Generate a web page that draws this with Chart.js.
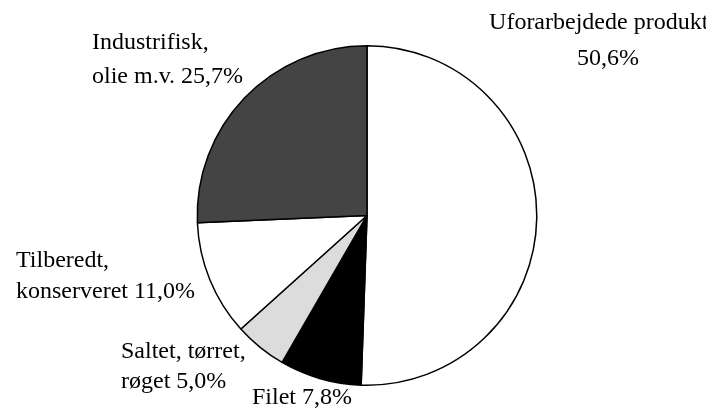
<!DOCTYPE html>
<html lang="da">
<head>
    <meta charset="UTF-8">
    <title>Fiskeeksport fordelt på forarbejdningsgrad</title>
    <script src="https://cdn.jsdelivr.net/npm/chart.js"></script>
    <style>
        html, body { margin: 0; padding: 0; background: #fff; }
        #wrap { width: 723px; height: 419px; }
    </style>
</head>
<body>
    <div id="wrap"><canvas id="pieChart" width="723" height="419"></canvas></div>

    <script>
        // Data (andel i %)
        const categories = ['Uforarbejdede produkter', 'Filet', 'Saltet, tørret, røget', 'Tilberedt, konserveret', 'Industrifisk, olie m.v.'];
        const shares = [50.6, 7.8, 5.0, 11.0, 25.7];
        const sliceColors = ['#ffffff', '#000000', '#dcdcdc', '#ffffff', '#444444'];

        // Label text lines per slice
        const labelLines = [
            ['Uforarbejdede produkter', '50,6%'],
            ['Filet 7,8%'],
            ['Saltet, tørret,', 'røget 5,0%'],
            ['Tilberedt,', 'konserveret 11,0%'],
            ['Industrifisk,', 'olie m.v. 25,7%']
        ];

        // where each label goes (x, baselines, alignment)
        const labelPlacement = [
            { x: 608, y: [29, 65], align: 'center' },
            { x: 252, y: [404], align: 'left' },
            { x: 121, y: [358, 388], align: 'left' },
            { x: 16, y: [267, 298], align: 'left' },
            { x: 92, y: [49, 83], align: 'left' }
        ];

        const outsideLabels = {
            id: 'outsideLabels',
            afterDraw(chart) {
                const ctx = chart.ctx;
                ctx.save();
                // the original picture is cut off just before the right edge
                ctx.beginPath();
                ctx.rect(0, 0, 706, chart.height);
                ctx.clip();
                ctx.fillStyle = '#000';
                ctx.font = '24px "Liberation Serif", "Times New Roman", serif';
                ctx.textBaseline = 'alphabetic';
                labelLines.forEach((lines, i) => {
                    const p = labelPlacement[i];
                    ctx.textAlign = p.align;
                    lines.forEach((line, j) => ctx.fillText(line, p.x, p.y[j]));
                });
                ctx.restore();
            }
        };

        new Chart(document.getElementById('pieChart'), {
            type: 'pie',
            data: {
                labels: categories,
                datasets: [{
                    data: shares,
                    backgroundColor: sliceColors,
                    borderColor: '#000',
                    borderWidth: 1.5
                }]
            },
            options: {
                responsive: false,
                animation: false,
                layout: { padding: { left: 11, right: 0, top: 45, bottom: 33 } },
                plugins: {
                    legend: { display: false },
                    tooltip: { enabled: false }
                }
            },
            plugins: [outsideLabels]
        });
    </script>
</body>
</html>
